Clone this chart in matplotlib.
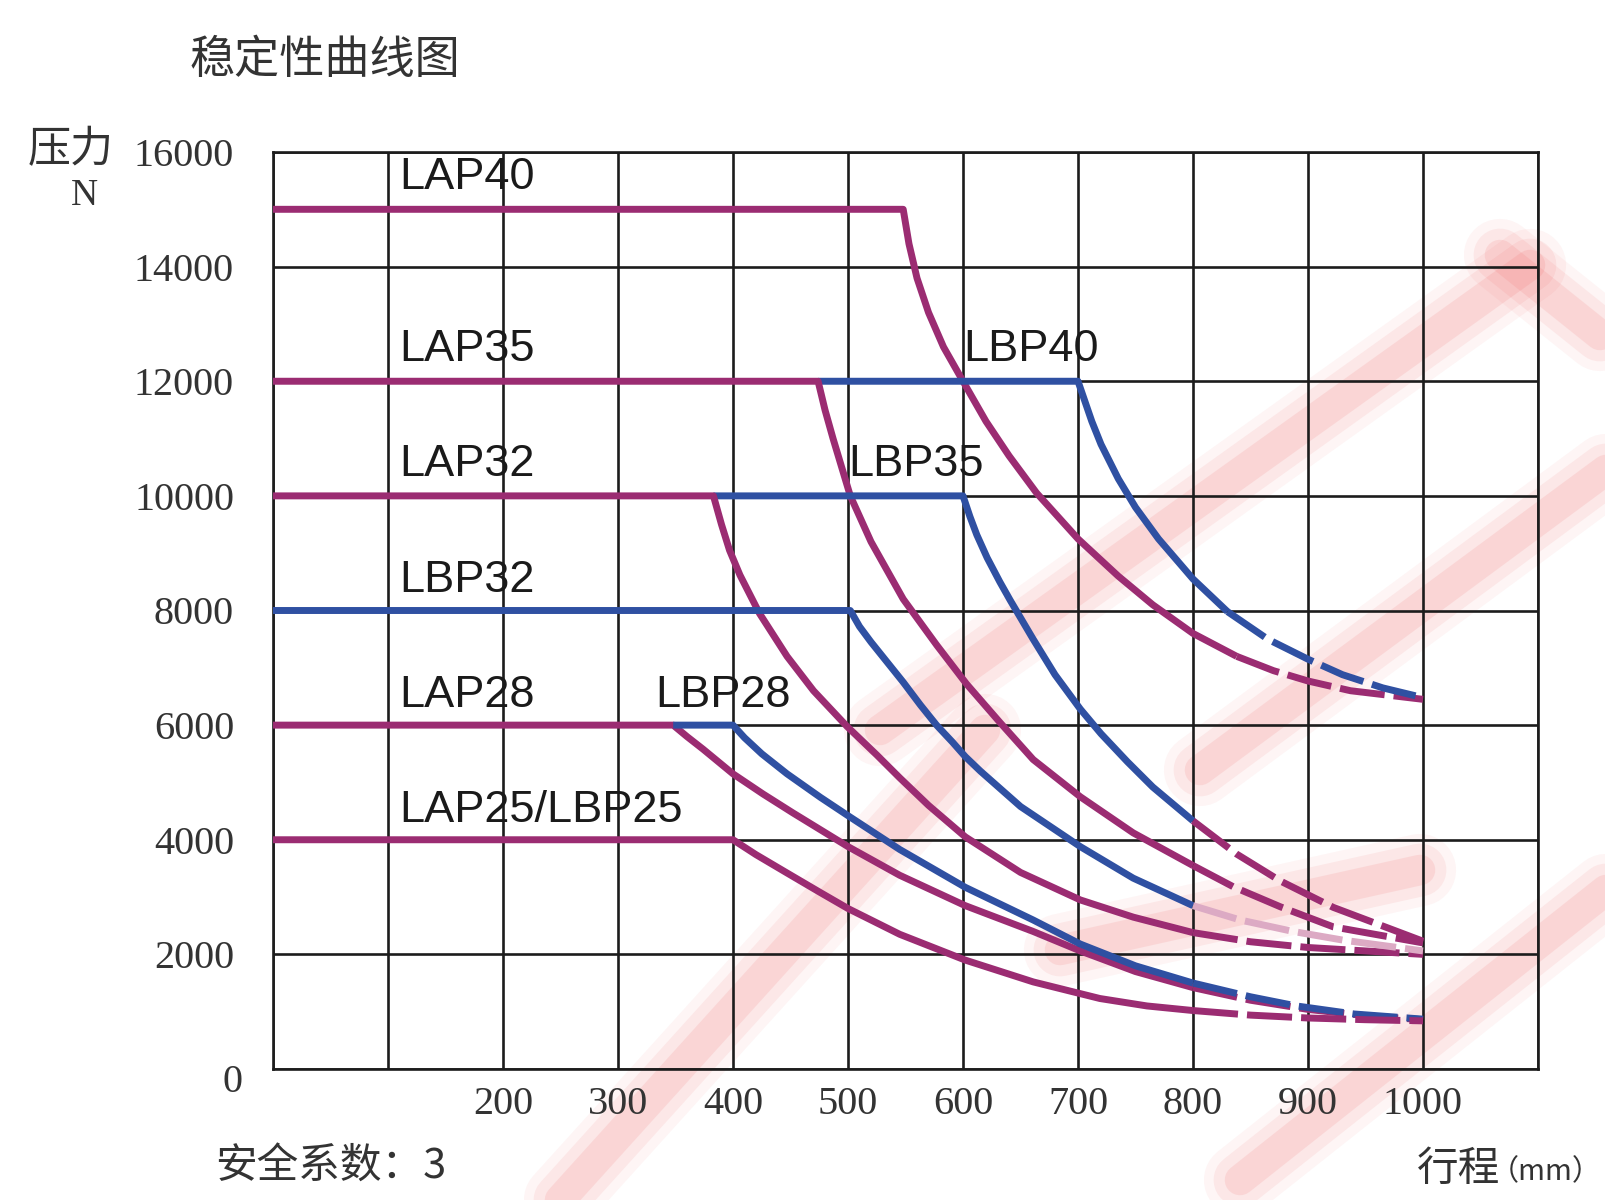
import matplotlib
matplotlib.use('Agg')
import matplotlib.pyplot as plt
from matplotlib.lines import Line2D
import numpy as np

# ---- values (stroke mm -> force N) ----
lap40_x = [0, 548, 553, 560, 570, 583, 600, 620, 640, 664, 700, 735, 765, 800, 838, 870, 900, 937, 1000]
lap40_y = [15000, 15000, 14400, 13800, 13200, 12600, 12000, 11300, 10700, 10050, 9250, 8600, 8100, 7600, 7200, 6950, 6770, 6600, 6450]

lbp40_x = [474, 700, 706, 712, 720, 735, 750, 770, 800, 830, 865, 900, 930, 965, 1000]
lbp40_y = [12000, 12000, 11650, 11300, 10900, 10300, 9800, 9250, 8550, 7980, 7500, 7150, 6880, 6650, 6480]

lap35_x = [0, 474, 480, 487, 502, 520, 548, 577, 603, 632, 661, 702, 748, 800, 835, 876, 922, 1000]
lap35_y = [12000, 12000, 11500, 11000, 10000, 9200, 8200, 7400, 6720, 6050, 5400, 4750, 4120, 3550, 3180, 2830, 2480, 2200]

lbp35_x = [383, 600, 606, 612, 621, 632, 641, 661, 680, 702, 720, 743, 765, 800, 838, 876, 922, 1000]
lbp35_y = [10000, 10000, 9640, 9320, 8920, 8500, 8180, 7500, 6880, 6280, 5850, 5360, 4920, 4330, 3750, 3280, 2820, 2230]

lap32_x = [0, 383, 390, 397, 406, 423, 447, 470, 499, 525, 545, 570, 602, 650, 702, 748, 800, 850, 900, 1000]
lap32_y = [10000, 10000, 9500, 9050, 8620, 7950, 7200, 6600, 5980, 5480, 5080, 4600, 4050, 3430, 2950, 2650, 2380, 2220, 2120, 2000]

lbp32_x = [0, 502, 510, 520, 534, 548, 563, 577, 591, 602, 615, 650, 702, 748, 800, 841, 887, 930, 1000]
lbp32_y = [8000, 8000, 7720, 7450, 7100, 6750, 6350, 6000, 5700, 5450, 5200, 4580, 3880, 3330, 2850, 2600, 2400, 2250, 2060]

lap28_x = [0, 348, 360, 374, 400, 426, 452, 500, 545, 602, 661, 702, 750, 800, 850, 900, 950, 1000]
lap28_y = [6000, 6000, 5800, 5580, 5150, 4800, 4470, 3880, 3380, 2850, 2400, 2060, 1700, 1420, 1200, 1040, 930, 860]

lbp28_x = [348, 400, 410, 425, 447, 476, 500, 545, 602, 661, 702, 750, 800, 850, 890, 940, 1000]
lbp28_y = [6000, 6000, 5780, 5500, 5150, 4740, 4420, 3830, 3170, 2600, 2180, 1800, 1500, 1260, 1100, 960, 870]

lap25_x = [0, 400, 420, 447, 475, 500, 545, 602, 661, 719, 760, 800, 850, 900, 950, 1000]
lap25_y = [4000, 4000, 3740, 3420, 3090, 2800, 2350, 1900, 1520, 1230, 1100, 1020, 940, 890, 860, 840]

curve_names = ['LAP40', 'LAP35', 'LBP40', 'LAP32', 'LBP35', 'LBP32', 'LAP28', 'LBP28', 'LAP25/LBP25']

x_tick_values = list(range(0, 1101, 100))
y_tick_values = list(range(0, 16001, 2000))

# ---- styling ----
MAG = '#9b2c72'
BLU = '#2f50a2'
PALE = '#dcaac4'
W, H = 1606, 1200

# (x, y, colour, x where the dashes begin, colour of dashed tail)
curves = [
    (lap40_x, lap40_y, MAG, 838, MAG),
    (lbp40_x, lbp40_y, BLU, 830, BLU),
    (lap35_x, lap35_y, MAG, 800, MAG),
    (lbp35_x, lbp35_y, BLU, 800, MAG),
    (lap32_x, lap32_y, MAG, 800, MAG),
    (lbp32_x, lbp32_y, BLU, 800, PALE),
    (lap28_x, lap28_y, MAG, 800, MAG),
    (lbp28_x, lbp28_y, BLU, 800, BLU),
    (lap25_x, lap25_y, MAG, 800, MAG),
]

# label anchor points (data coords)
label_pos = [(110, 15560), (110, 12550), (600, 12550), (110, 10540), (500, 10540),
             (110, 8530), (110, 6520), (332, 6520), (110, 4510)]

fig = plt.figure(figsize=(W / 100, H / 100), dpi=100)

# faint red watermark strokes behind the chart (pixel coords)
bands = [
    ((880, 730), (1530, 265)),
    ((1500, 255), (1600, 335)),
    ((1200, 770), (1606, 470)),
    ((560, 1200), (985, 730)),
    ((1060, 950), (1420, 870)),
    ((1240, 1180), (1606, 890)),
]
for (x0, y0), (x1, y1) in bands:
    for lw, a in [(52, 0.06), (38, 0.09), (22, 0.12)]:
        fig.add_artist(Line2D([x0 / W, x1 / W], [1 - y0 / H, 1 - y1 / H],
                              transform=fig.transFigure, lw=lw, color='#f05a5a',
                              alpha=a, solid_capstyle='round', zorder=-5))

ax = fig.add_axes([273 / W, 1 - 1069 / H, (1538 - 273) / W, (1069 - 152) / H])
ax.set_facecolor('none')
ax.set_xlim(0, 1100)
ax.set_ylim(0, 16000)

ax.set_xticks(x_tick_values)
ax.set_xticklabels(['' if v < 200 or v > 1000 else str(v) for v in x_tick_values])
ax.set_yticks(y_tick_values)
ax.set_yticklabels(['' if v == 0 else str(v) for v in y_tick_values])
ax.tick_params(length=0, labelsize=29, colors='#333333')
ax.tick_params(axis='y', pad=28)
ax.tick_params(axis='x', pad=12)
for lab in ax.get_xticklabels() + ax.get_yticklabels():
    lab.set_family('Liberation Serif')
ax.annotate('0', xy=(0, 0), xytext=(-30, -13), textcoords='offset pixels',
            ha='right', va='center', fontsize=29, family='Liberation Serif', color='#333333')

ax.set_axisbelow(True)
ax.grid(True, color='#1c1c1c', lw=1.9)
for sp in ax.spines.values():
    sp.set_linewidth(1.9)
    sp.set_color('#1c1c1c')

for xs, ys, col, dash_from, tail_col in curves:
    xs = np.array(xs)
    ys = np.array(ys)
    k = int(np.where(xs == dash_from)[0][0])
    ax.plot(xs[:k + 1], ys[:k + 1], color=col, lw=5, solid_capstyle='butt',
            solid_joinstyle='round', zorder=3, clip_on=False)
    ax.plot(xs[k:], ys[k:], color=tail_col, lw=5, linestyle=(0, (6.5, 1.3)),
            dash_capstyle='butt', zorder=3, clip_on=False)

for name, (lx, ly) in zip(curve_names, label_pos):
    ax.text(lx, ly, name, ha='left', va='center', fontsize=32.5,
            family='Liberation Sans', color='#1a1a1a', zorder=4)

cjk = ['Noto Sans CJK SC', 'DejaVu Sans']
fig.text(190 / W, 1 - 60 / H, '稳定性曲线图', ha='left', va='center',
         fontsize=32.5, family=cjk, color='#333333')
fig.text(71 / W, 1 - 150 / H, '压力', ha='center', va='center',
         fontsize=31, family=cjk, color='#333333')
fig.text(84 / W, 1 - 196 / H, 'N', ha='center', va='center',
         fontsize=27, family='Liberation Serif', color='#333333')
fig.text(215 / W, 1 - 1166 / H, '安全系数：3', ha='left', va='center',
         fontsize=30, family=cjk, color='#333333')
fig.text(1500 / W, 1 - 1170 / H, '行程', ha='right', va='center',
         fontsize=30, family=cjk, color='#333333')
fig.text(1602 / W, 1 - 1172 / H, '（mm）', ha='right', va='center',
         fontsize=21, family=cjk, color='#333333')

fig.savefig('out.png', dpi=100)
